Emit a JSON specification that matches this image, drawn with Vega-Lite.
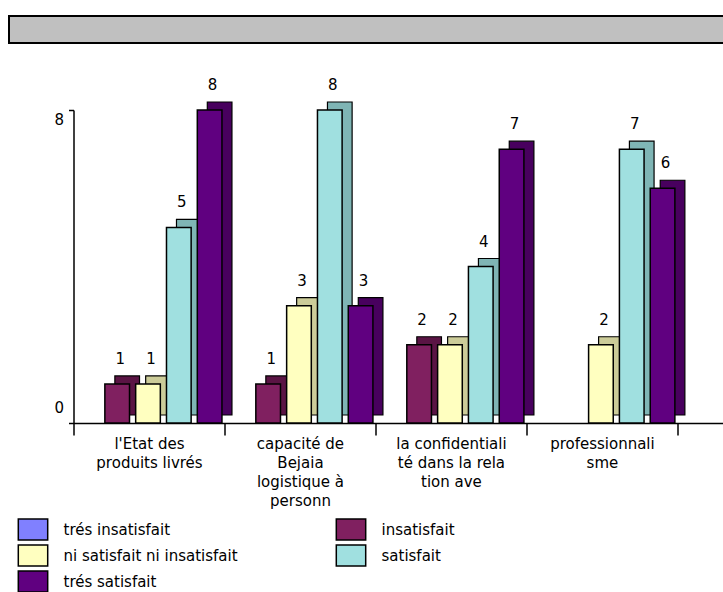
{
  "$schema": "https://vega.github.io/schema/vega-lite/v6.json",
  "padding": {"left": 8, "top": 15, "right": 0, "bottom": 0},
  "background": "white",
  "config": {"font": "DejaVu Sans", "view": {"stroke": null}},
  "spacing": 34,
  "center": true,
  "vconcat": [
    {
      "width": 779,
      "height": 27,
      "view": {"fill": "#C0C0C0", "stroke": "#000000", "strokeWidth": 2},
      "data": {"values": [{"titre": ""}]},
      "mark": {"type": "text"},
      "encoding": {"text": {"field": "titre"}}
    },
    {
      "width": 651,
      "height": 313,
      "data": {
        "values": [
          {"critere": "l'Etat des|produits livrés", "avis": "insatisfait", "effectif": 1},
          {"critere": "l'Etat des|produits livrés", "avis": "ni satisfait ni insatisfait", "effectif": 1},
          {"critere": "l'Etat des|produits livrés", "avis": "satisfait", "effectif": 5},
          {"critere": "l'Etat des|produits livrés", "avis": "trés satisfait", "effectif": 8},
          {"critere": "capacité de|Bejaia|logistique à|personn", "avis": "insatisfait", "effectif": 1},
          {"critere": "capacité de|Bejaia|logistique à|personn", "avis": "ni satisfait ni insatisfait", "effectif": 3},
          {"critere": "capacité de|Bejaia|logistique à|personn", "avis": "satisfait", "effectif": 8},
          {"critere": "capacité de|Bejaia|logistique à|personn", "avis": "trés satisfait", "effectif": 3},
          {"critere": "la confidentiali|té dans la rela|tion ave", "avis": "insatisfait", "effectif": 2},
          {"critere": "la confidentiali|té dans la rela|tion ave", "avis": "ni satisfait ni insatisfait", "effectif": 2},
          {"critere": "la confidentiali|té dans la rela|tion ave", "avis": "satisfait", "effectif": 4},
          {"critere": "la confidentiali|té dans la rela|tion ave", "avis": "trés satisfait", "effectif": 7},
          {"critere": "professionnali|sme", "avis": "ni satisfait ni insatisfait", "effectif": 2},
          {"critere": "professionnali|sme", "avis": "satisfait", "effectif": 7},
          {"critere": "professionnali|sme", "avis": "trés satisfait", "effectif": 6}
        ]
      },
      "encoding": {
        "x": {
          "field": "critere",
          "type": "nominal",
          "sort": null,
          "scale": {
            "domain": ["l'Etat des|produits livrés", "capacité de|Bejaia|logistique à|personn", "la confidentiali|té dans la rela|tion ave", "professionnali|sme"],
            "paddingInner": 0,
            "paddingOuter": 0.156,
            "align": 0
          },
          "axis": {
            "title": null,
            "labelAngle": 0,
            "labelExpr": "split(datum.label, '|')",
            "labelFont": "DejaVu Sans",
            "labelFontSize": 15,
            "labelColor": "black",
            "labelLineHeight": 19,
            "labelBaseline": "top",
            "tickBand": "extent",
            "tickSize": 12,
            "tickColor": "black",
            "tickWidth": 1.5,
            "domainColor": "black",
            "domainWidth": 1.5,
            "labelPadding": 1,
            "labelLimit": 200
          }
        },
        "y": {
          "field": "effectif",
          "type": "quantitative",
          "scale": {"domain": [0, 8]},
          "axis": {
            "title": null,
            "values": [0, 8],
            "grid": false,
            "domainColor": "black",
            "domainWidth": 1.5,
            "tickColor": "black",
            "tickWidth": 1.5,
            "tickSize": 5,
            "labelPadding": 5,
            "labelFont": "DejaVu Sans",
            "labelFontSize": 15,
            "labelColor": "black",
            "labelOffset": {"condition": {"test": "datum.value == 0", "value": -16}, "value": 9},
            "minExtent": 64,
            "maxExtent": 64
          }
        }
      },
      "layer": [
        {
          "mark": {"type": "bar", "yOffset": -8, "y2Offset": -8, "stroke": "black", "strokeWidth": 1.2},
          "encoding": {
            "xOffset": {
              "field": "avis",
              "type": "nominal",
              "scale": {
                "type": "band",
                "domain": ["trés insatisfait", "insatisfait", "ni satisfait ni insatisfait", "satisfait", "trés satisfait"],
                "range": [9, 160],
                "paddingInner": 0.2,
                "paddingOuter": 0.05
              }
            },
            "color": {
              "field": "avis",
              "type": "nominal",
              "scale": {
                "domain": ["trés insatisfait", "insatisfait", "ni satisfait ni insatisfait", "satisfait", "trés satisfait"],
                "range": ["#6060C0", "#5A1444", "#CCCC99", "#7FB5B5", "#48005E"]
              },
              "legend": null
            }
          }
        },
        {
          "mark": {"type": "bar", "stroke": "black", "strokeWidth": 1.5},
          "encoding": {
            "xOffset": {
              "field": "avis",
              "type": "nominal",
              "scale": {
                "type": "band",
                "domain": ["trés insatisfait", "insatisfait", "ni satisfait ni insatisfait", "satisfait", "trés satisfait"],
                "range": [-1, 150],
                "paddingInner": 0.2,
                "paddingOuter": 0.05
              }
            },
            "color": {
              "field": "avis",
              "type": "nominal",
              "scale": {
                "domain": ["trés insatisfait", "insatisfait", "ni satisfait ni insatisfait", "satisfait", "trés satisfait"],
                "range": ["#8080FF", "#802060", "#FFFFC0", "#A0E0E0", "#600080"]
              },
              "legend": {
                "orient": "none",
                "legendX": -52,
                "legendY": 408,
                "columns": 2,
                "direction": "horizontal",
                "title": null,
                "symbolType": "M-1.4,-1H1.4V1H-1.4Z",
                "symbolSize": 441,
                "symbolStrokeColor": "black",
                "symbolStrokeWidth": 1.5,
                "symbolOpacity": 1,
                "labelFont": "DejaVu Sans",
                "labelFontSize": 15,
                "labelColor": "black",
                "labelOffset": 19,
                "rowPadding": -1,
                "columnPadding": 94,
                "labelLimit": 400
              }
            }
          }
        },
        {
          "mark": {"type": "text", "dx": 3, "dy": -20, "baseline": "alphabetic", "fontSize": 15, "font": "DejaVu Sans", "color": "black"},
          "encoding": {
            "xOffset": {
              "field": "avis",
              "type": "nominal",
              "scale": {
                "type": "band",
                "domain": ["trés insatisfait", "insatisfait", "ni satisfait ni insatisfait", "satisfait", "trés satisfait"],
                "range": [-1, 150],
                "paddingInner": 0.2,
                "paddingOuter": 0.05
              }
            },
            "text": {"field": "effectif", "type": "quantitative"}
          }
        }
      ],
      "resolve": {"scale": {"xOffset": "independent", "color": "independent"}, "legend": {"color": "independent"}}
    }
  ]
}
